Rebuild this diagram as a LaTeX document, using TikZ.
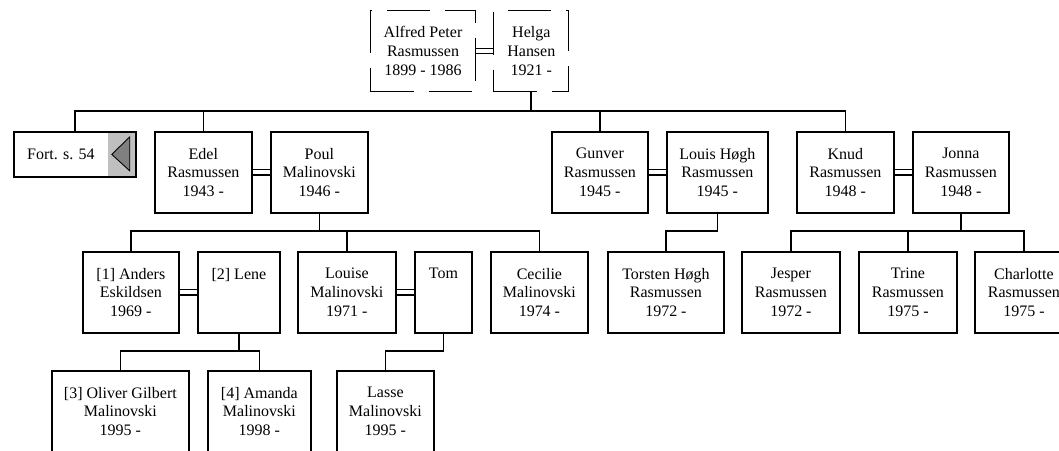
\documentclass[tikz,border=0pt]{standalone}
\usepackage{fontspec}
\setmainfont{Liberation Serif}
\usetikzlibrary{positioning, calc}

\begin{document}
\begin{tikzpicture}[node distance=0.345cm, font=\fontsize{9.1}{10.6}\selectfont]
        \tikzstyle{person} = [rectangle, minimum width=1.94cm, minimum height=1.62cm, inner sep=0pt, text centered, align=center, draw=black, line width=1pt]
        \tikzstyle{ancestor} = [person, line width=0.6pt, dash pattern=on 0.86cm off 0.3cm]
        \tikzstyle{line} = [line width=1pt]
        \tikzstyle{wed} = [double, line width=0.7pt, double distance=2.2pt]

        \useasboundingbox (0,0) rectangle (21.18,-9);

        % generation 1
        \node (alfred) [ancestor, minimum width=2.1cm, anchor=north west] at (7.4,-0.2) {Alfred Peter\\Rasmussen\\1899 - 1986};
        \node (helga) [ancestor, minimum width=1.5cm, right=of alfred] {Helga\\Hansen\\1921 -};

        % generation 2
        \node (fort) [person, minimum width=2.44cm, minimum height=0.9cm, anchor=north west,
            path picture={\fill[gray!50] ($(path picture bounding box.north east)+(-0.56,0)$) rectangle (path picture bounding box.south east);}] at (0.26,-2.62) {Fort. s. 54\hspace{0.56cm}};
        \node (edel) [person, anchor=north west] at (3.08,-2.62) {Edel\\Rasmussen\\1943 -};
        \node (poul) [person, right=of edel] {Poul\\Malinovski\\1946 -};
        \node (gunver) [person, minimum width=1.92cm, anchor=north west] at (11.02,-2.62) {Gunver\\Rasmussen\\1945 -};
        \node (louis) [person, minimum width=2.02cm, right=of gunver] {Louis Høgh\\Rasmussen\\1945 -};
        \node (knud) [person, right=0.545cm of louis] {Knud\\Rasmussen\\1948 -};
        \node (jonna) [person, minimum width=1.92cm, right=of knud] {Jonna\\Rasmussen\\1948 -};

        % generation 3
        \node (anders) [person, minimum width=1.92cm, anchor=north west] at (1.64,-5.02) {[1] Anders\\Eskildsen\\1969 -};
        \node (lene) [person, minimum width=1.64cm, right=of anders] {[2] Lene\\~\\~};
        \node (louise) [person, minimum width=1.96cm, right=0.325cm of lene] {Louise\\Malinovski\\1971 -};
        \node (tom) [person, minimum width=1.14cm, right=of louise] {Tom\\~\\~};
        \node (cecilie) [person, right=of tom] {Cecilie\\Malinovski\\1974 -};
        \node (torsten) [person, minimum width=2.32cm, right=0.365cm of cecilie] {Torsten Høgh\\Rasmussen\\1972 -};
        \node (jesper) [person, minimum width=1.96cm, right=0.325cm of torsten] {Jesper\\Rasmussen\\1972 -};
        \node (trine) [person, minimum width=1.96cm, right=of jesper] {Trine\\Rasmussen\\1975 -};
        \node (charlotte) [person, minimum width=1.96cm, right=0.325cm of trine] {Charlotte\\Rasmussen\\1975 -};

        % generation 4
        \node (oliver) [person, minimum width=2.74cm, anchor=north west] at (1.02,-7.4) {[3] Oliver Gilbert\\Malinovski\\1995 -};
        \node (amanda) [person, minimum width=2.06cm, right=of oliver] {[4] Amanda\\Malinovski\\1998 -};
        \node (lasse) [person, right=0.485cm of amanda] {Lasse\\Malinovski\\1995 -};

        % arrow button
        \draw [fill=gray, line width=0.5pt] ($(fort.east)+(-0.5,0)$) -- ($(fort.east)+(-0.14,0.35)$) -- ($(fort.east)+(-0.14,-0.33)$) -- cycle;

        % marriages
        \draw [wed] (alfred) -- (helga);
        \draw [wed] (edel) -- (poul);
        \draw [wed] (gunver) -- (louis);
        \draw [wed] (knud) -- (jonna);
        \draw [wed] (anders) -- (lene);
        \draw [wed] (louise) -- (tom);

        % children
        \coordinate (g1) at ($(edel.north)+(0,0.4)$);
        \draw [line] (helga.south) -- (helga.south |- g1);
        \draw [line] (fort.north) |- (knud.north |- g1) -- (knud.north);
        \foreach \n in {edel, gunver}
            \draw [line] (\n.north) -- (\n.north |- g1);

        \coordinate (g2) at ($(anders.north)+(0,0.4)$);
        \draw [line] (poul.south) -- (poul.south |- g2);
        \draw [line] (anders.north) |- (cecilie.north |- g2) -- (cecilie.north);
        \draw [line] (louise.north) -- (louise.north |- g2);
        \draw [line] (louis.south) |- (torsten.north |- g2) -- (torsten.north);
        \draw [line] (jonna.south) -- (jonna.south |- g2);
        \draw [line] (jesper.north) |- (charlotte.north |- g2) -- (charlotte.north);
        \draw [line] (trine.north) -- (trine.north |- g2);

        \coordinate (g3) at ($(oliver.north)+(0,0.38)$);
        \draw [line] (lene.south) -- (lene.south |- g3);
        \draw [line] (oliver.north) |- (amanda.north |- g3) -- (amanda.north);
        \draw [line] (tom.south) |- (lasse.north |- g3) -- (lasse.north);
    \end{tikzpicture}
\end{document}
